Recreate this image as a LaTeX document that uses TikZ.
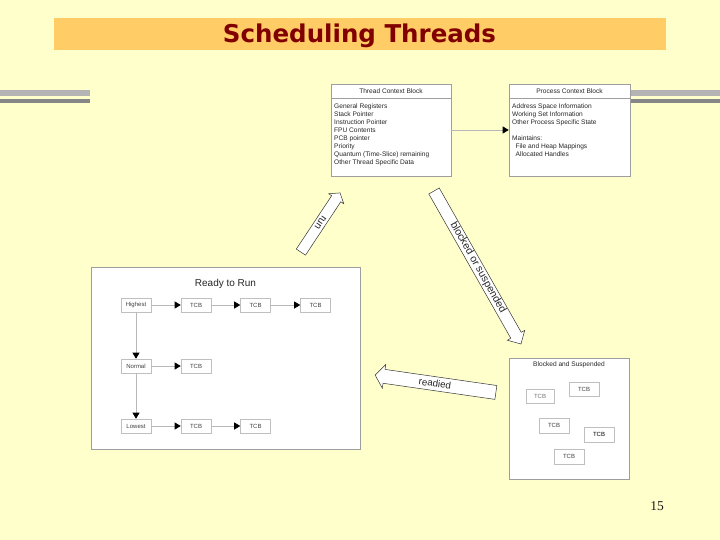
\documentclass[tikz,border=0pt]{standalone}
\usepackage{fontspec}
\setmainfont{Liberation Sans}
\newfontfamily\titlefont{DejaVu Sans}
\newfontfamily\numfont{Liberation Serif}
\usetikzlibrary{arrows.meta}
\definecolor{bgyellow}{HTML}{FFFFCC}
\definecolor{bandorange}{HTML}{FFCC66}
\definecolor{titlered}{HTML}{800000}
\definecolor{lightbar}{HTML}{B4B4B4}
\definecolor{darkbar}{HTML}{868686}
\newcommand{\bigarrow}[7]{%
  \begin{scope}[shift={(#1,#2)},rotate=#3]
    \draw[blockarrow] (-#4/2,-#5/2) -- (#4/2-#7,-#5/2) -- (#4/2-#7,-#6/2) -- (#4/2,0)
      -- (#4/2-#7,#6/2) -- (#4/2-#7,#5/2) -- (-#4/2,#5/2) -- cycle;
  \end{scope}}
\begin{document}
\begin{tikzpicture}[x=1pt,y=-1pt,
  panel/.style={draw=black!38, fill=white, line width=0.6pt, inner sep=0pt},
  smallbox/.style={draw=black!25, fill=white, line width=0.6pt, minimum width=30pt,
    minimum height=14pt, inner sep=0pt, font=\fontsize{6}{7}\selectfont, text=black!75},
  conn/.style={draw=black!28, line width=0.6pt, -{Triangle[length=6pt,width=7pt,color=black]}},
  blockarrow/.style={draw=black!80, fill=white, line width=0.5pt, line join=miter},
  tinytext/.style={inner sep=0pt, font=\fontsize{6.6}{8}\selectfont, text=black!85},
  arrowlabel/.style={inner sep=0pt, text=black!85}
]
\useasboundingbox (0,0) rectangle (720,540);
\fill[bgyellow] (0,0) rectangle (720,540);

% title band
\node[fill=bandorange, minimum width=612pt, minimum height=32pt, inner sep=0pt] (band) at (360,34) {};
\node[anchor=base, inner sep=0pt, text=titlered, font=\titlefont\bfseries\fontsize{24.5}{28}\selectfont] (title) at (359.5,43) {Scheduling Threads};

% decorative bars
\fill[lightbar] (0,90) rectangle (90,96);
\fill[darkbar] (0,99) rectangle (90,103);
\fill[lightbar] (630,90) rectangle (720,96);
\fill[darkbar] (630,99) rectangle (720,103);

% context blocks
\node[panel, minimum width=120pt, minimum height=92pt] (tcbk) at (391,130) {};
\draw[draw=black!38, line width=0.6pt] ([yshift=-15pt]tcbk.north west) -- ([yshift=-15pt]tcbk.north east);
\node[tinytext] (tcbkhead) at (391,91.5) {Thread Context Block};
\node[tinytext, anchor=north west, align=left] (tcbklist) at (334,103.4) {General Registers\\Stack Pointer\\Instruction Pointer\\FPU Contents\\PCB pointer\\Priority\\Quantum (Time-Slice) remaining\\Other Thread Specific Data};

\node[panel, minimum width=121pt, minimum height=92pt] (pcbk) at (569.5,130) {};
\draw[draw=black!38, line width=0.6pt] ([yshift=-15pt]pcbk.north west) -- ([yshift=-15pt]pcbk.north east);
\node[tinytext] (pcbkhead) at (569.5,91.5) {Process Context Block};
\node[tinytext, anchor=north west, align=left] (pcbklist) at (512,103.4) {Address Space Information\\Working Set Information\\Other Process Specific State\\[8pt]Maintains:\\\hspace*{3.5pt}File and Heap Mappings\\\hspace*{3.5pt}Allocated Handles};

\draw[conn] (tcbk.east) -- (pcbk.west);

% ready to run panel
\node[panel, minimum width=269pt, minimum height=182pt] (ready) at (225.5,358) {};
\node[inner sep=0pt, font=\fontsize{10}{12}\selectfont, text=black!85] (readytitle) at (225.5,284) {Ready to Run};

\node[smallbox] (hi) at (136,305) {Highest};
\node[smallbox] (t11) at (196,305) {TCB};
\node[smallbox] (t12) at (255.5,305) {TCB};
\node[smallbox] (t13) at (315.5,305) {TCB};
\node[smallbox] (no) at (136,366) {Normal};
\node[smallbox] (t21) at (196,366) {TCB};
\node[smallbox] (lo) at (136,426) {Lowest};
\node[smallbox] (t31) at (196,426) {TCB};
\node[smallbox] (t32) at (255.5,426) {TCB};

\draw[conn] (hi) -- (t11);
\draw[conn] (t11) -- (t12);
\draw[conn] (t12) -- (t13);
\draw[conn] (hi) -- (no);
\draw[conn] (no) -- (t21);
\draw[conn] (no) -- (lo);
\draw[conn] (lo) -- (t31);
\draw[conn] (t31) -- (t32);

% blocked and suspended panel
\node[panel, minimum width=120pt, minimum height=121pt] (blocked) at (569,418.5) {};
\node[tinytext] (blockedtitle) at (569,365) {Blocked and Suspended};
\node[smallbox, minimum width=28pt, text=black!55] (b1) at (540,396) {TCB};
\node[smallbox] (b2) at (584,389) {TCB};
\node[smallbox, minimum height=15pt] (b3) at (554,425.5) {TCB};
\node[smallbox, minimum height=15pt, text=black] (b4) at (599,434.5) {TCB};
\node[smallbox, minimum height=15pt] (b5) at (569,456.5) {TCB};

% block arrows
\bigarrow{320.5}{222.5}{56.5}{71}{11}{18}{7}
\node[arrowlabel, rotate=236.5, font=\fontsize{10}{12}\selectfont] (runlabel) at (320.5,222.5) {run};

\bigarrow{477.5}{267.5}{-60.4}{176}{12}{20}{10}
\node[arrowlabel, rotate=-60.4, font=\fontsize{10.5}{12}\selectfont] (blockedlabel) at (478,267.5) {blocked or suspended};

\bigarrow{435.5}{383.75}{171.8}{122}{14}{24}{9}
\node[arrowlabel, rotate=-8.2, font=\fontsize{9.7}{12}\selectfont] (readiedlabel) at (435,383.5) {readied};

% page number
\node[inner sep=0pt, font=\numfont\fontsize{13.5}{16}\selectfont, text=black!90] (pagenum) at (657,506) {15};
\end{tikzpicture}
\end{document}
